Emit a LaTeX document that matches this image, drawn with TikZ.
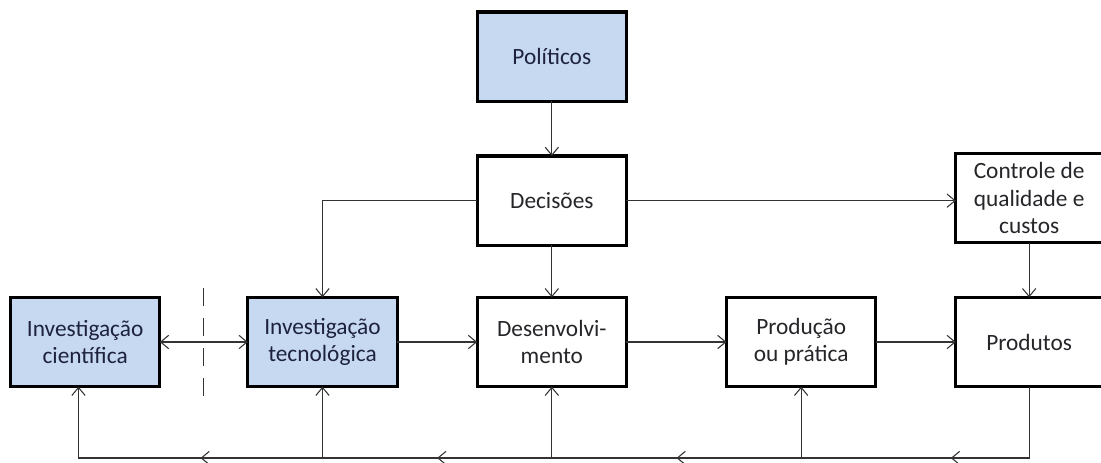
\documentclass[tikz,border=0pt]{standalone}
\usepackage{fontspec}
\setmainfont{Carlito}
\usepackage{xcolor}
\usetikzlibrary{positioning,calc,arrows.meta,decorations.markings}
\definecolor{azulclaro}{RGB}{198,217,241}
\definecolor{texto}{RGB}{38,38,42}
\definecolor{textoazul}{RGB}{30,34,60}

\begin{document}
\begin{tikzpicture}[node distance=40pt and 60pt, text centered,
    >={Straight Barb[length=6pt,width=10pt]},
    font=\fontsize{17.5}{20.5}\selectfont, text=texto]
  % Styles
  \tikzstyle{caixa}=[rectangle, draw, line width=2.4pt, outer sep=0pt, minimum width=112pt, minimum height=67pt, align=center, inner xsep=2pt]
  \tikzstyle{azul}=[caixa, fill=azulclaro, text=textoazul]
  \tikzstyle{branca}=[caixa, fill=white]
  \tikzstyle{liga}=[->, line width=0.8pt, black!80]
  \tikzstyle{retorno}=[line width=0.8pt, black!80, postaction={decorate},
    decoration={markings, mark=at position 0.5 with {\arrow{>}}}]

  \useasboundingbox (-241.875pt,-90pt) rectangle (583.875pt,256.5pt);

  % Main row
  \node[azul] (tecno) {Investigação\\tecnológica};
  \node[azul, left=66pt of tecno] (ciencia) {Investigação\\científica};
  \node[branca, right=60pt of tecno] (desenv) {Desenvolvi-\\mento};
  \node[branca, right=75pt of desenv] (producao) {Produção\\ou prática};
  \node[branca, right=60pt of producao, minimum width=110pt] (produtos) {Produtos};
  % Upper part
  \node[branca, above=41pt of produtos, minimum width=110pt] (controle) {Controle de\\qualidade e\\custos};
  \node[branca, above=39pt of desenv] (decisoes) {Decisões};
  \node[azul, above=41pt of decisoes] (politicos) {Políticos};

  % Cut between science and technology
  \coordinate (corte) at ($(ciencia.east)!0.5!(tecno.west)$);
  \draw[line width=0.9pt, black!80, dash pattern=on 13.5pt off 9pt] ([yshift=40.5pt]corte) -- ([yshift=-41.5pt]corte);

  % Arrows
  \draw[liga] (politicos) -- (decisoes);
  \draw[liga] (decisoes) -- (desenv);
  \draw[liga] (decisoes.west) -| (tecno.north);
  \draw[liga] (decisoes.east) -- (decisoes.east -| controle.west);
  \draw[liga] (controle) -- (produtos);
  \draw[liga, <->] (ciencia) -- (tecno);
  \draw[liga] (tecno) -- (desenv);
  \draw[liga] (desenv) -- (producao);
  \draw[liga] (producao) -- (produtos);

  % Feedback line
  \coordinate (base) at (0,-87pt);
  \coordinate (subida) at ([xshift=-5pt]ciencia.south);
  \draw[retorno] (produtos.south) |- (producao.south |- base);
  \draw[retorno] (producao.south |- base) -- (desenv.south |- base);
  \draw[retorno] (desenv.south |- base) -- (tecno.south |- base);
  \draw[retorno] (tecno.south |- base) -- (subida |- base);
  \draw[liga] (producao.south |- base) -- (producao.south);
  \draw[liga] (desenv.south |- base) -- (desenv.south);
  \draw[liga] (tecno.south |- base) -- (tecno.south);
  \draw[liga] (subida |- base) -- (subida);
\end{tikzpicture}
\end{document}
